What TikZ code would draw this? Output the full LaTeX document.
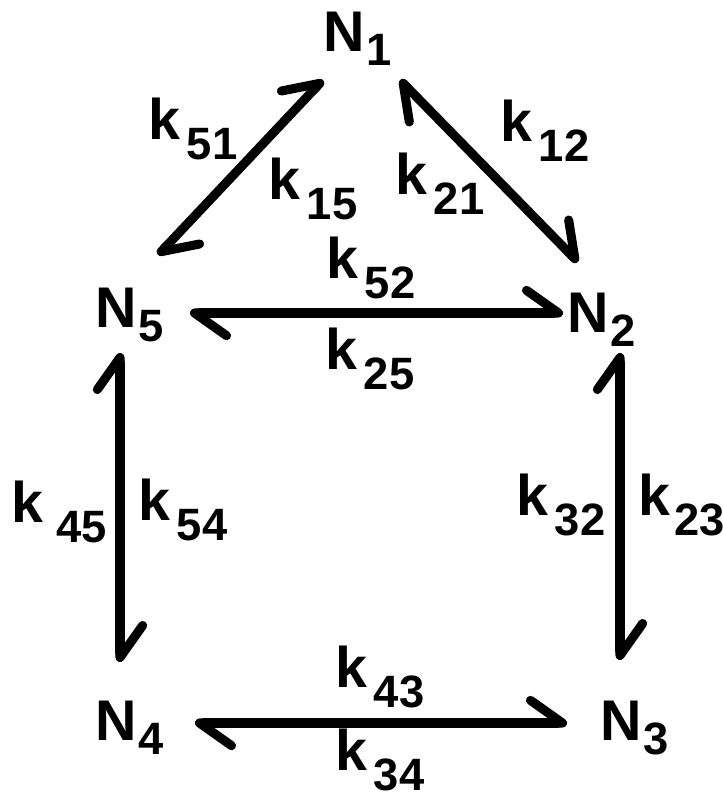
\documentclass[tikz,border=0pt]{standalone}
\usepackage{fontspec}
\setmainfont{Liberation Sans}
\usetikzlibrary{arrows.meta}

\newcommand{\subsz}{\fontsize{34}{34}\selectfont}
\newcommand{\nlab}[1]{N\kern1pt\raisebox{-10.5pt}{\subsz #1}}
\newcommand{\klab}[2][5pt]{k\kern#1\raisebox{-15pt}{\subsz #2}}

\tikzset{barb/.tip={Straight Barb[left,length=24pt,width=34pt,round]}}

\begin{document}
\begin{tikzpicture}[x=0.75pt,y=-0.75pt,
  lbl/.style={inner sep=0pt, anchor=base west, font=\fontsize{43}{43}\selectfont\bfseries},
  harp/.style={line width=6.8pt, line cap=round, barb-barb}]

\useasboundingbox (0,0) rectangle (723,798);

% Estados
\node[lbl] (n1) at (323,52) {\nlab{1}};
\node[lbl] (n2) at (567,332) {\nlab{2}};
\node[lbl] (n3) at (600,740) {\nlab{3}};
\node[lbl] (n4) at (95,740) {\nlab{4}};
\node[lbl] (n5) at (95,327) {\nlab{5}};

% Flechas
\draw[harp] ([shift={(63,-72)}]n5.base west) -- ([shift={(0,28)}]n1.base west);
\draw[harp] ([shift={(77,28)}]n1.base west) -- ([shift={(11,-70)}]n2.base west);
\draw[harp] ([shift={(95,-14)}]n5.base west) -- ([shift={(-4,-19)}]n2.base west);
\draw[harp] ([shift={(25,26)}]n5.base west) -- ([shift={(25,-78)}]n4.base west);
\draw[harp] ([shift={(53,21)}]n2.base west) -- ([shift={(20,-80)}]n3.base west);
\draw[harp] ([shift={(100,-17)}]n4.base west) -- ([shift={(-33,-17)}]n3.base west);

% Constantes
\node[lbl] (k51) at (148,140) {\klab{51}};
\node[lbl] (k15) at (268,200) {\klab{15}};
\node[lbl] (k12) at (500,142) {\klab{12}};
\node[lbl] (k21) at (395,195) {\klab{21}};
\node[lbl] (k52) at (326,278) {\klab{52}};
\node[lbl] (k25) at (325,369) {\klab{25}};
\node[lbl] (k45) at (11,522) {\klab[10pt]{45}};
\node[lbl] (k54) at (138,520) {\klab{54}};
\node[lbl] (k32) at (516,515) {\klab{32}};
\node[lbl] (k23) at (638,515) {\klab[3pt]{23}};
\node[lbl] (k43) at (335,687) {\klab{43}};
\node[lbl] (k34) at (335,770) {\klab{34}};

\end{tikzpicture}
\end{document}
